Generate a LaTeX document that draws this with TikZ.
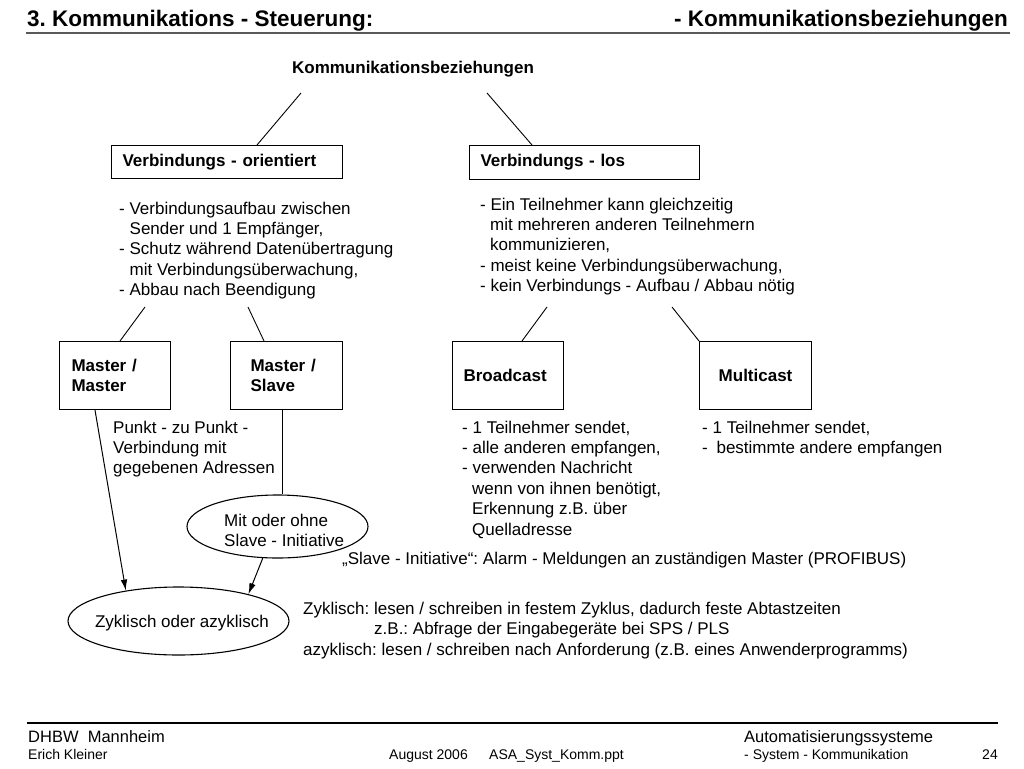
\documentclass[tikz,border=0pt]{standalone}
\usepackage{fontspec}
\setmainfont{Liberation Sans}
\usetikzlibrary{shapes.geometric,arrows.meta,calc}
\definecolor{hdr}{gray}{0.35}
\frenchspacing
\begin{document}
\begin{tikzpicture}[x=1pt,y=-1pt,
  box/.style={draw,line width=1.1pt,inner ysep=0pt,anchor=north west,font=\fontsize{17}{20}\selectfont\bfseries,align=left},
  txt/.style={inner sep=0pt,anchor=north west,align=left,font=\fontsize{17}{20.4}\selectfont},
  foot/.style={inner sep=0pt,anchor=base west,font=\fontsize{16.5}{20}\selectfont},
  footsmall/.style={inner sep=0pt,anchor=base west,font=\fontsize{14}{17}\selectfont},
  conn/.style={line width=0.9pt},
  arr/.style={line width=1pt,-{Latex[length=11pt,width=6.5pt]}},
  ell/.style={draw,ellipse,line width=1.1pt,inner sep=0pt},
]
\useasboundingbox[fill=white] (0,0) rectangle (1024,768);

% header
\node[inner sep=0pt,anchor=base west,font=\fontsize{22.5}{27}\selectfont\bfseries] (title) at (27,27) {3. Kommunikations - Steuerung:};
\node[inner sep=0pt,anchor=base east,font=\fontsize{22.5}{27}\selectfont\bfseries] (subtitle) at (1008,27) {- Kommunikationsbeziehungen};
\draw[line width=2.5pt,hdr] (26,33) -- (1010,33);

% top
\node[inner sep=0pt,anchor=base,font=\fontsize{17}{20}\selectfont\bfseries] (kb) at (413,73) {Kommunikationsbeziehungen};
\node[box,minimum width=231pt,minimum height=33pt,text width=209pt,inner xsep=11pt] (vo) at (111,145) {Verbindungs - orientiert};
\node[box,minimum width=230pt,minimum height=34pt,text width=208pt,inner xsep=11pt] (vl) at (469,145) {Verbindungs - los};
\coordinate (kbl) at (301,93);
\coordinate (kbr) at (487,93);
\draw[conn] (kbl) -- ($(vo.north west)+(146,0)$);
\draw[conn] (kbr) -- ($(vl.north west)+(63,0)$);

\node[txt] (vot) at (119,201.5) {- Verbindungsaufbau zwischen\\\hspace*{10.5pt}Sender und 1 Empfänger,\\- Schutz während Datenübertragung\\\hspace*{10.5pt}mit Verbindungsüberwachung,\\- Abbau nach Beendigung};
\node[txt] (vlt) at (480,197.5) {- Ein Teilnehmer kann gleichzeitig\\\hspace*{10pt}mit mehreren anderen Teilnehmern\\\hspace*{10pt}kommunizieren,\\- meist keine Verbindungsüberwachung,\\- kein Verbindungs - Aufbau / Abbau nötig};

% second level boxes
\node[box,minimum width=111pt,minimum height=68pt,text width=87pt,inner xsep=12pt] (mm) at (59,341) {Master /\\Master};
\node[box,minimum width=112pt,minimum height=68pt,text width=72pt,inner xsep=20pt] (ms) at (230,341) {Master /\\Slave};
\node[box,minimum width=111pt,minimum height=68pt,text width=89pt,inner xsep=11pt] (bc) at (452,341) {Broadcast};
\node[box,minimum width=112pt,minimum height=68pt,text width=90pt,inner xsep=11pt,align=center] (mc) at (699,341) {Multicast};

\coordinate (l1) at (145,307);
\coordinate (l2) at (248,307);
\coordinate (r1) at (547,307);
\coordinate (r2) at (672,307);
\draw[conn] (l1) -- ($(mm.north west)+(61,0)$);
\draw[conn] (l2) -- ($(ms.north west)+(34,0)$);
\draw[conn] (r1) -- ($(bc.north west)+(70,0)$);
\draw[conn] (r2) -- (mc.north west);

\node[txt] (pp) at (113,420.5) {Punkt - zu Punkt -\\Verbindung mit\\gegebenen Adressen};
\node[txt] (bct) at (462,420.5) {- 1 Teilnehmer sendet,\\- alle anderen empfangen,\\- verwenden Nachricht\\\hspace*{10pt}wenn von ihnen benötigt,\\\hspace*{10pt}Erkennung z.B. über\\\hspace*{10pt}Quelladresse};
\node[txt] (mct) at (702,420.5) {- 1 Teilnehmer sendet,\\- \hspace*{4pt}bestimmte andere empfangen};

% ellipses
\node[ell,minimum width=181pt,minimum height=63pt] (e1) at (277.5,526.5) {};
\node[txt,font=\fontsize{17}{20}\selectfont] (e1t) at (224,513.5) {Mit oder ohne\\Slave - Initiative};
\node[ell,minimum width=221pt,minimum height=68pt] (e2) at (178.5,621) {};
\node[inner sep=0pt,font=\fontsize{17}{20}\selectfont] (e2t) at (182,623) {Zyklisch oder azyklisch};

\draw[arr] ($(mm.south west)+(36,0)$) -- (e2.150);
\draw[conn] ($(ms.south west)+(52,0)$) coordinate (msb) -- (msb |- e1.north);
\draw[arr] (e1.245) -- (e2.21);

\node[txt] (si) at (342,551.5) {„Slave - Initiative“: Alarm - Meldungen an zuständigen Master (PROFIBUS)};
\node[txt] (zy) at (303,602) {Zyklisch: lesen / schreiben in festem Zyklus, dadurch feste Abtastzeiten\\\hspace*{71pt}z.B.: Abfrage der Eingabegeräte bei SPS / PLS\\azyklisch: lesen / schreiben nach Anforderung (z.B. eines Anwenderprogramms)};

% footer
\draw[line width=2pt] (27,723) -- (998,723);
\node[foot] (f1) at (28,742) {DHBW\ \ Mannheim};
\node[foot] (f2) at (744,742) {Automatisierungssysteme};
\node[footsmall] (f3) at (28,759) {Erich Kleiner};
\node[footsmall] (f4) at (389,759) {August 2006};
\node[footsmall] (f5) at (489,759) {ASA\_Syst\_Komm.ppt};
\node[footsmall] (f6) at (744,759) {- System - Kommunikation};
\node[footsmall,anchor=base east] (f7) at (998,759) {24};
\end{tikzpicture}
\end{document}
